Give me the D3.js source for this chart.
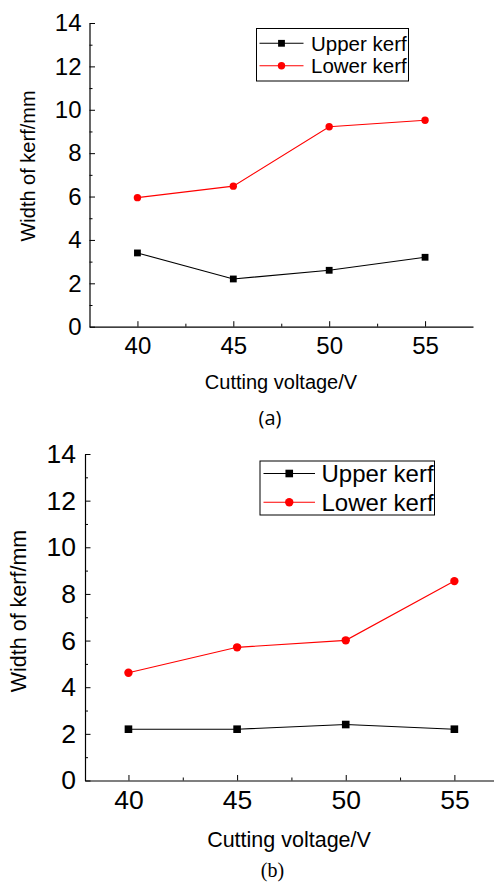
<!DOCTYPE html>
<html>
<head>
<meta charset="utf-8">
<script src="https://cdn.jsdelivr.net/npm/d3@7"></script>
<style>
  html, body { margin: 0; padding: 0; background: #fff; }
  svg { display: block; }
  text { font-family: "Liberation Sans", Arial, sans-serif; fill: #000; }
</style>
</head>
<body>
<svg id="chart" width="494" height="882"></svg>
<script>
// ---- Data ----
const voltages = [40, 45, 50, 55];
const upperKerfA = [3.4, 2.2, 2.6, 3.2];
const lowerKerfA = [5.95, 6.48, 9.22, 9.52];
const upperKerfB = [2.2, 2.2, 2.4, 2.2];
const lowerKerfB = [4.62, 5.71, 6.01, 8.55];
const xMajorTicks = [40, 45, 50, 55];
const xMinorTicks = [42.5, 47.5, 52.5];
const yMajorTicks = [0, 2, 4, 6, 8, 10, 12, 14];
const yMinorTicks = [1, 3, 5, 7, 9, 11, 13];
const seriesNames = ["Upper kerf", "Lower kerf"];
const xTitle = "Cutting voltage/V";
const yTitle = "Width of kerf/mm";
const captions = ["(a)", "(b)"];

const svg = d3.select("#chart");

const panels = [
  {
    upper: upperKerfA, lower: lowerKerfA, caption: captions[0],
    xDomain: [37.5, 57.5], xRange: [89.5, 473],
    yRange: [326.7, 23],
    tickFont: 24, xLabelBase: 354, yLabelPad: 8,
    xTitleX: 281, xTitleY: 389, titleFont: 20,
    yTitleX: 35, yTitleY: 166,
    legend: {x: 256.5, y: 28.5, w: 152, h: 52.5, row1: 43.3, row2: 65.7, lx1: 259.5, lx2: 303.5, tx: 311, font: 20.5},
    sq: 6.8, r: 3.7,
    capX: 270, capY: 425, capFont: "'Open Sans', Lato, sans-serif", capSize: 20
  },
  {
    upper: upperKerfB, lower: lowerKerfB, caption: captions[1],
    xDomain: [38, 57.5], xRange: [85, 508.7],
    yRange: [780.5, 454],
    tickFont: 26.5, xLabelBase: 809, yLabelPad: 9,
    xTitleX: 289, xTitleY: 847, titleFont: 21.5,
    yTitleX: 26, yTitleY: 611,
    legend: {x: 260, y: 461, w: 174.5, h: 54, row1: 473.5, row2: 502.3, lx1: 263.5, lx2: 315, tx: 321.5, font: 24},
    sq: 7.6, r: 4.2,
    capX: 272.5, capY: 877, capFont: "'Liberation Serif', 'Times New Roman', serif", capSize: 20
  }
];

panels.forEach(p => {
  const g = svg.append("g");
  const x = d3.scaleLinear().domain(p.xDomain).range(p.xRange);
  const y = d3.scaleLinear().domain([0, 14]).range(p.yRange);

  // minor ticks
  g.append("g")
    .attr("transform", `translate(0,${p.yRange[0]})`)
    .call(d3.axisBottom(x).tickValues(xMinorTicks).tickFormat("").tickSize(-3).tickSizeOuter(0))
    .call(a => a.select(".domain").remove())
    .selectAll("line").attr("stroke", "#000");
  g.append("g")
    .attr("transform", `translate(${p.xRange[0]},0)`)
    .call(d3.axisLeft(y).tickValues(yMinorTicks).tickFormat("").tickSize(-3).tickSizeOuter(0))
    .call(a => a.select(".domain").remove())
    .selectAll("line").attr("stroke", "#000");

  // major x axis
  const xa = g.append("g")
    .attr("transform", `translate(0,${p.yRange[0]})`)
    .call(d3.axisBottom(x).tickValues(xMajorTicks).tickFormat(d3.format("d")).tickSize(-5.5).tickSizeOuter(0).tickPadding(0));
  xa.select(".domain").attr("stroke", "#000").attr("stroke-width", 1.2);
  xa.selectAll("line").attr("stroke", "#000");
  xa.selectAll("text")
    .attr("font-size", p.tickFont)
    .attr("dy", null)
    .attr("y", p.xLabelBase - p.yRange[0])
    .style("font-family", "'Liberation Sans', Arial, sans-serif")
    .attr("fill", "#000");

  // major y axis
  const ya = g.append("g")
    .attr("transform", `translate(${p.xRange[0]},0)`)
    .call(d3.axisLeft(y).tickValues(yMajorTicks).tickFormat(d3.format("d")).tickSize(-5.5).tickSizeOuter(0).tickPadding(p.yLabelPad));
  ya.select(".domain").attr("stroke", "#000").attr("stroke-width", 1.2);
  ya.selectAll("line").attr("stroke", "#000");
  ya.selectAll("text")
    .attr("font-size", p.tickFont)
    .style("font-family", "'Liberation Sans', Arial, sans-serif")
    .attr("fill", "#000");

  // titles
  g.append("text").attr("x", p.xTitleX).attr("y", p.xTitleY)
    .attr("text-anchor", "middle").attr("font-size", p.titleFont).text(xTitle);
  g.append("text")
    .attr("transform", `translate(${p.yTitleX},${p.yTitleY}) rotate(-90)`)
    .attr("text-anchor", "middle").attr("font-size", p.titleFont).text(yTitle);

  // lines
  const line = d3.line().x((d, i) => x(voltages[i])).y(d => y(d));
  const series = [
    {vals: p.upper, color: "#000", shape: "square"},
    {vals: p.lower, color: "#ff0000", shape: "circle"}
  ];
  series.forEach(s => {
    g.append("path").datum(s.vals).attr("d", line)
      .attr("fill", "none").attr("stroke", s.color).attr("stroke-width", 1.1);
    if (s.shape === "square") {
      g.selectAll(null).data(s.vals).enter().append("rect")
        .attr("x", (d, i) => x(voltages[i]) - p.sq / 2)
        .attr("y", d => y(d) - p.sq / 2)
        .attr("width", p.sq).attr("height", p.sq).attr("fill", s.color);
    } else {
      g.selectAll(null).data(s.vals).enter().append("circle")
        .attr("cx", (d, i) => x(voltages[i]))
        .attr("cy", d => y(d))
        .attr("r", p.r).attr("fill", s.color);
    }
  });

  // legend
  const L = p.legend;
  g.append("rect").attr("x", L.x).attr("y", L.y).attr("width", L.w).attr("height", L.h)
    .attr("fill", "#fff").attr("stroke", "#000").attr("stroke-width", 1);
  [L.row1, L.row2].forEach((ry, k) => {
    const col = k === 0 ? "#000" : "#ff0000";
    g.append("line").attr("x1", L.lx1).attr("x2", L.lx2).attr("y1", ry).attr("y2", ry)
      .attr("stroke", col).attr("stroke-width", 1.1);
    const mx = (L.lx1 + L.lx2) / 2;
    if (k === 0) {
      g.append("rect").attr("x", mx - p.sq / 2).attr("y", ry - p.sq / 2)
        .attr("width", p.sq).attr("height", p.sq).attr("fill", col);
    } else {
      g.append("circle").attr("cx", mx).attr("cy", ry).attr("r", p.r).attr("fill", col);
    }
    g.append("text").attr("x", L.tx).attr("y", ry).attr("dy", "0.36em")
      .attr("font-size", L.font).text(seriesNames[k]);
  });

  // caption
  g.append("text").attr("x", p.capX).attr("y", p.capY)
    .attr("text-anchor", "middle")
    .style("font-family", p.capFont)
    .style("font-size", p.capSize + "px").text(p.caption);
});
</script>
</body>
</html>
